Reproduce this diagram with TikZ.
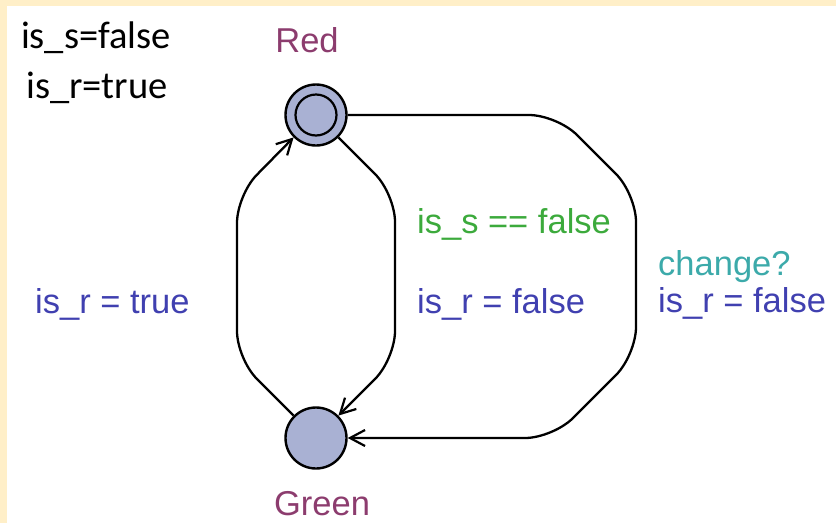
\documentclass[tikz,border=0pt]{standalone}
\usepackage{fontspec}
\setmainfont{Liberation Sans}
\newfontfamily\calfont{Carlito}
\usetikzlibrary{arrows.meta}
\definecolor{cream}{RGB}{255,239,200}
\definecolor{locfill}{RGB}{169,177,211}
\definecolor{locname}{RGB}{140,60,110}
\definecolor{assigncol}{RGB}{64,64,176}
\definecolor{guardcol}{RGB}{60,170,60}
\definecolor{synccol}{RGB}{60,170,170}
\tikzset{
  location/.style={circle, draw=black, fill=locfill, line width=2.4pt, minimum size=61pt, inner sep=0pt},
  edge/.style={line width=2.3pt, rounded corners=28pt, -{Straight Barb[length=15pt,width=16pt,line width=2.2pt]}},
  lbl/.style={font=\fontsize{34.5}{40}\selectfont, inner sep=0pt},
  decl/.style={font=\calfont\fontsize{38.5}{44}\selectfont, inner sep=0pt, anchor=base},
}
\begin{document}
\begin{tikzpicture}[x=1pt,y=-1pt]
\useasboundingbox (0,0) rectangle (836,523);
\fill[cream] (0,0) rectangle (836,6);
\fill[cream] (0,0) rectangle (7,523);

\node[decl] (d1) at (96,48) {is\_s=false};
\node[decl] (d2) at (97,98) {is\_r=true};

\node[location] (red) at (316,115) {};
\draw[line width=2.2pt] (red.center) circle[radius=20.5pt];
\node[location] (green) at (316,438) {};

\node[lbl, text=locname, anchor=base] (redname) at (307,52) {Red};
\node[lbl, text=locname, anchor=base] (greenname) at (322,515) {Green};

\draw[edge] (green.135) -- (237,359) -- (237,195) -- (red.225);
\draw[edge] (red.-45) -- (395,194) -- (395,359) -- (green.45);
\draw[edge] (red.east) -- (557,115) -- (636,194) -- (636,355) -- (553,438) -- (green.east);

\node[lbl, text=assigncol, anchor=base west] (a1) at (35,313) {is\_r = true};
\node[lbl, text=guardcol, anchor=base west] (g2) at (417,233) {is\_s == false};
\node[lbl, text=assigncol, anchor=base west] (a2) at (417,313) {is\_r = false};
\node[lbl, text=synccol, anchor=base west] (s3) at (658,275) {change?};
\node[lbl, text=assigncol, anchor=base west] (a3) at (658,312) {is\_r = false};
\end{tikzpicture}
\end{document}
